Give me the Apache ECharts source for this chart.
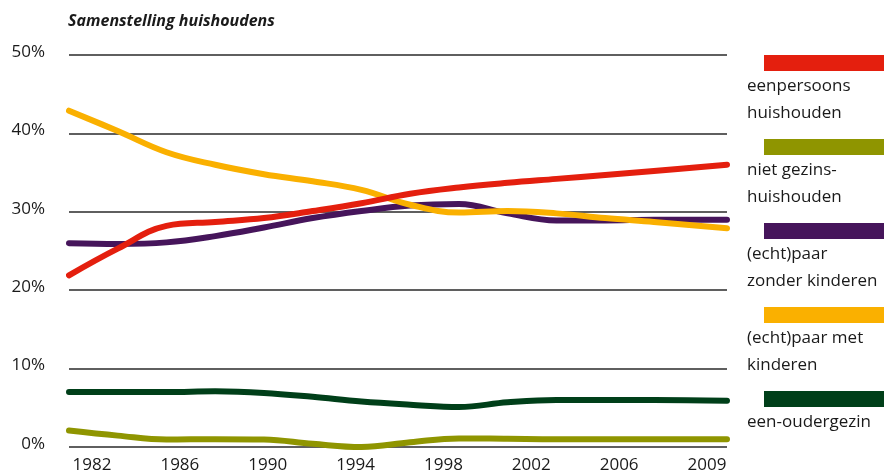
<!DOCTYPE html>
<html>
<head>
<meta charset="utf-8">
<script src="https://cdn.jsdelivr.net/npm/echarts@6/dist/echarts.min.js"></script>
<style>
  html, body { margin: 0; padding: 0; background: #fff; }
  #main { width: 884px; height: 476px; }
</style>
</head>
<body>
<div id="main"></div>
<script>
var years = [1982, 1984, 1986, 1988, 1990, 1992, 1994, 1996, 1998, 2000, 2002, 2004, 2006, 2009];
var tickLabels = ['1982', '1986', '1990', '1994', '1998', '2002', '2006', '2009'];

var eenpersoons = [21.9, 25.3, 28.2, 28.7, 29.2, 30.1, 31.1, 32.3, 33.1, 33.7, 34.2, 34.7, 35.2, 36.0];
var nietGezins  = [2.1, 1.45, 0.95, 1.0, 0.95, 0.4, 0.0, 0.6, 1.1, 1.05, 1.0, 1.0, 1.0, 1.0];
var paarZonder  = [26.0, 25.9, 26.1, 26.9, 28.0, 29.2, 30.1, 30.8, 31.0, 29.8, 28.9, 28.9, 29.0, 29.0];
var paarMet     = [42.9, 40.3, 37.6, 36.0, 34.8, 33.9, 32.8, 30.9, 29.9, 30.1, 29.8, 29.2, 28.7, 27.9];
var eenOuder    = [7.0, 7.0, 7.0, 7.1, 6.9, 6.4, 5.8, 5.4, 5.1, 5.7, 6.0, 6.0, 6.0, 5.9];

var legendNames = [
  ['eenpersoons', 'huishouden'],
  ['niet gezins-', 'huishouden'],
  ['(echt)paar', 'zonder kinderen'],
  ['(echt)paar met', 'kinderen'],
  ['een-oudergezin']
];
var colors = ['#e41f0e', '#8f9500', '#46155b', '#fab000', '#003f19'];
var seriesData = [eenpersoons, nietGezins, paarZonder, paarMet, eenOuder];

var font = '"Open Sans", sans-serif';
var textColor = '#1a1a1a';

function pairs(vals) {
  return years.map(function (y, i) { return [y, vals[i]]; });
}

var myChart = echarts.init(document.getElementById('main'));

// tekenvolgorde: groen, olijf, paars, oranje, rood
var drawOrder = [4, 1, 2, 3, 0];
var series = drawOrder.map(function (k) {
  return {
    name: legendNames[k].join(' '),
    type: 'line',
    xAxisIndex: 0,
    yAxisIndex: 0,
    data: pairs(seriesData[k]),
    smooth: 0.4,
    symbol: 'none',
    clip: false,
    lineStyle: { color: colors[k], width: 6, cap: 'round', join: 'round' }
  };
});

// legenda als blokjes met tekst eronder
var graphics = [];
legendNames.forEach(function (lines, i) {
  var top = 55 + i * 84;
  graphics.push({
    type: 'rect',
    shape: { x: 764, y: top, width: 120, height: 16 },
    style: { fill: colors[i] }
  });
  graphics.push({
    type: 'text',
    x: 747,
    y: top + 18,
    style: {
      text: lines.join('\n'),
      font: '17px ' + font,
      lineHeight: 27,
      fill: textColor,
      verticalAlign: 'top'
    }
  });
});
graphics.push({
  type: 'text',
  x: 68,
  y: 21,
  style: {
    text: 'Samenstelling huishoudens',
    font: 'italic bold 16px ' + font,
    fill: textColor,
    verticalAlign: 'middle'
  }
});

var option = {
  animation: false,
  grid: [
    { left: 69, right: 157, top: 55, bottom: 29 },
    { left: 92, right: 177, top: 55, bottom: 29 }
  ],
  xAxis: [
    {
      type: 'value', gridIndex: 0, min: 1982, max: 2009,
      show: false
    },
    {
      type: 'category', gridIndex: 1, data: tickLabels, boundaryGap: false,
      axisLine: { show: false }, axisTick: { show: false }, splitLine: { show: false },
      axisLabel: { color: textColor, fontFamily: font, fontSize: 17, margin: 10 }
    }
  ],
  yAxis: [
    {
      type: 'value', gridIndex: 0, min: 0, max: 50, interval: 10,
      axisLine: { show: false }, axisTick: { show: false },
      splitLine: { lineStyle: { color: '#2a2a2a', width: 1.5 } },
      axisLabel: {
        formatter: '{value}%', color: textColor, fontFamily: font, fontSize: 17,
        margin: 24, verticalAlign: 'bottom', lineHeight: 6
      }
    },
    { type: 'value', gridIndex: 1, min: 0, max: 50, show: false }
  ],
  graphic: graphics,
  series: series
};
myChart.setOption(option);
</script>
</body>
</html>
